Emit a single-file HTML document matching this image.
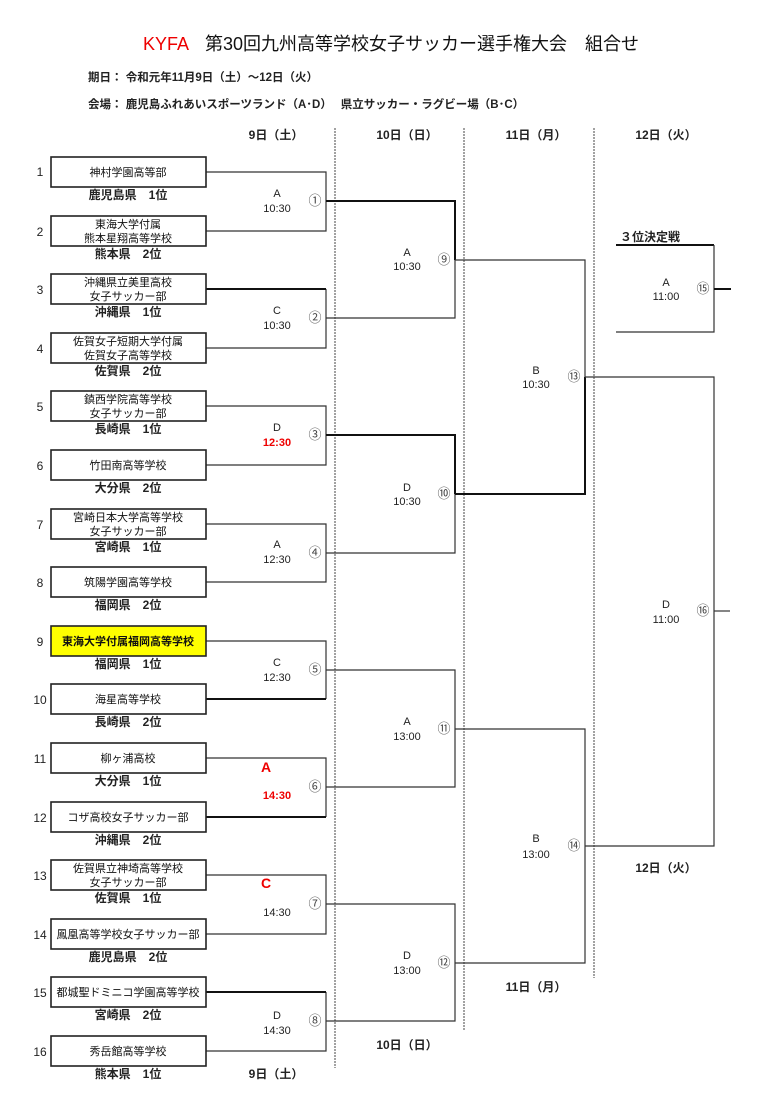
<!DOCTYPE html>
<html><head><meta charset="utf-8"><style>
html,body{margin:0;padding:0;background:#fff;}
svg{display:block;font-family:"Liberation Sans","Noto Sans CJK JP",sans-serif;}
.b{fill:#fff;stroke:#222;stroke-width:1.6}
.t{font-size:11px;fill:#111;text-anchor:middle}
.p{font-size:12px;fill:#222;text-anchor:middle;font-weight:bold}
.n{font-size:12px;fill:#222;text-anchor:middle}
.m{font-size:11px;fill:#222;text-anchor:middle}
.c{font-size:13px;fill:#444;text-anchor:middle}
.l{stroke:#333;stroke-width:1.2;fill:none}
.k{stroke:#111;stroke-width:2;fill:none}
.d{stroke:#444;stroke-width:1;stroke-dasharray:2,1;fill:none}
.h{font-size:12px;fill:#222;text-anchor:middle;font-weight:bold}
</style></head><body>
<svg width="760" height="1100" viewBox="0 0 760 1100">
<text x="143" y="50" font-size="18" fill="#e00">KYFA</text>
<text x="205" y="50" font-size="18" fill="#111">第30回九州高等学校女子サッカー選手権大会　組合せ</text>
<text x="88" y="81" font-size="11.5" fill="#222" font-weight="bold">期日：  令和元年11月9日（土）～12日（火）</text>
<text x="88" y="108" font-size="11.5" fill="#222" font-weight="bold">会場：  鹿児島ふれあいスポーツランド（A･D）　 県立サッカー・ラグビー場（B･C）</text>
<text class="h" x="276" y="139">9日（土）</text>
<text class="h" x="407" y="139">10日（日）</text>
<text class="h" x="536" y="139">11日（月）</text>
<text class="h" x="666" y="139">12日（火）</text>
<line class="d" x1="335" y1="128" x2="335" y2="1068"/>
<line class="d" x1="464" y1="128" x2="464" y2="1030"/>
<line class="d" x1="594" y1="128" x2="594" y2="978"/>
<path class="l" d="M206 172H326V231H206"/>
<path class="l" d="M206 348H326V289"/><path class="k" d="M206 289H326"/>
<path class="l" d="M206 406H326V465H206"/>
<path class="l" d="M206 524H326V582H206"/>
<path class="l" d="M206 641H326V699"/><path class="k" d="M206 699H326"/>
<path class="l" d="M206 758H326V817"/><path class="k" d="M206 817H326"/>
<path class="l" d="M206 875H326V934H206"/>
<path class="l" d="M206 1051H326V992"/><path class="k" d="M206 992H326"/>
<path class="k" d="M326 201H455V260"/><path class="l" d="M455 260V318H326"/>
<path class="k" d="M326 435H455V494"/><path class="l" d="M455 494V553H326"/>
<path class="l" d="M326 670H455V787H326"/>
<path class="l" d="M326 904H455V1021H326"/>
<path class="l" d="M455 260H585V377"/><path class="k" d="M585 377V494H455"/>
<path class="l" d="M455 729H585V963H455"/>
<path class="l" d="M585 377H714V846H585"/>
<line class="l" x1="714" y1="611" x2="730" y2="611"/>
<path class="k" d="M616 245H714"/><path class="l" d="M714 245V332H616"/>
<line class="k" x1="714" y1="289" x2="731" y2="289"/>
<text x="620" y="241" font-size="12" fill="#222" font-weight="bold">３位決定戦</text>
<text class="m" x="666" y="286">A</text><text class="m" x="666" y="300">11:00</text>
<text class="c" x="703" y="293">⑮</text>
<g>
<rect class="b" x="51" y="157" width="155" height="30"/>
<rect class="b" x="51" y="216" width="155" height="30"/>
<rect class="b" x="51" y="274" width="155" height="30"/>
<rect class="b" x="51" y="333" width="155" height="30"/>
<rect class="b" x="51" y="391" width="155" height="30"/>
<rect class="b" x="51" y="450" width="155" height="30"/>
<rect class="b" x="51" y="509" width="155" height="30"/>
<rect class="b" x="51" y="567" width="155" height="30"/>
<rect class="b" x="51" y="626" width="155" height="30" style="fill:#ffff00"/>
<rect class="b" x="51" y="684" width="155" height="30"/>
<rect class="b" x="51" y="743" width="155" height="30"/>
<rect class="b" x="51" y="802" width="155" height="30"/>
<rect class="b" x="51" y="860" width="155" height="30"/>
<rect class="b" x="51" y="919" width="155" height="30"/>
<rect class="b" x="51" y="977" width="155" height="30"/>
<rect class="b" x="51" y="1036" width="155" height="30"/>
</g>
<text class="n" x="40" y="176">1</text>
<text class="n" x="40" y="236">2</text>
<text class="n" x="40" y="294">3</text>
<text class="n" x="40" y="353">4</text>
<text class="n" x="40" y="411">5</text>
<text class="n" x="40" y="470">6</text>
<text class="n" x="40" y="529">7</text>
<text class="n" x="40" y="587">8</text>
<text class="n" x="40" y="646">9</text>
<text class="n" x="40" y="704">10</text>
<text class="n" x="40" y="763">11</text>
<text class="n" x="40" y="822">12</text>
<text class="n" x="40" y="880">13</text>
<text class="n" x="40" y="939">14</text>
<text class="n" x="40" y="997">15</text>
<text class="n" x="40" y="1056">16</text>
<text class="t" x="128" y="176">神村学園高等部</text>
<text class="t" x="128" y="228">東海大学付属</text><text class="t" x="128" y="242">熊本星翔高等学校</text>
<text class="t" x="128" y="286">沖縄県立美里高校</text><text class="t" x="128" y="300">女子サッカー部</text>
<text class="t" x="128" y="345">佐賀女子短期大学付属</text><text class="t" x="128" y="359">佐賀女子高等学校</text>
<text class="t" x="128" y="403">鎮西学院高等学校</text><text class="t" x="128" y="417">女子サッカー部</text>
<text class="t" x="128" y="469">竹田南高等学校</text>
<text class="t" x="128" y="521">宮崎日本大学高等学校</text><text class="t" x="128" y="535">女子サッカー部</text>
<text class="t" x="128" y="586">筑陽学園高等学校</text>
<text class="t" x="128" y="645" font-weight="bold" font-size="10.5">東海大学付属福岡高等学校</text>
<text class="t" x="128" y="703">海星高等学校</text>
<text class="t" x="128" y="762">柳ヶ浦高校</text>
<text class="t" x="128" y="821">コザ高校女子サッカー部</text>
<text class="t" x="128" y="872">佐賀県立神埼高等学校</text><text class="t" x="128" y="886">女子サッカー部</text>
<text class="t" x="128" y="938" font-size="10.5">鳳凰高等学校女子サッカー部</text>
<text class="t" x="128" y="996" font-size="10.5">都城聖ドミニコ学園高等学校</text>
<text class="t" x="128" y="1055">秀岳館高等学校</text>
<text class="p" x="128" y="199">鹿児島県　1位</text>
<text class="p" x="128" y="258">熊本県　2位</text>
<text class="p" x="128" y="316">沖縄県　1位</text>
<text class="p" x="128" y="375">佐賀県　2位</text>
<text class="p" x="128" y="433">長崎県　1位</text>
<text class="p" x="128" y="492">大分県　2位</text>
<text class="p" x="128" y="551">宮崎県　1位</text>
<text class="p" x="128" y="609">福岡県　2位</text>
<text class="p" x="128" y="668">福岡県　1位</text>
<text class="p" x="128" y="726">長崎県　2位</text>
<text class="p" x="128" y="785">大分県　1位</text>
<text class="p" x="128" y="844">沖縄県　2位</text>
<text class="p" x="128" y="902">佐賀県　1位</text>
<text class="p" x="128" y="961">鹿児島県　2位</text>
<text class="p" x="128" y="1019">宮崎県　2位</text>
<text class="p" x="128" y="1078">熊本県　1位</text>
<text class="m" x="277" y="197">A</text><text class="m" x="277" y="212">10:30</text><text class="c" x="315" y="205">①</text>
<text class="m" x="277" y="314">C</text><text class="m" x="277" y="329">10:30</text><text class="c" x="315" y="322">②</text>
<text class="m" x="277" y="431">D</text><text class="m" x="277" y="446" style="fill:#e00;font-weight:bold">12:30</text><text class="c" x="315" y="439">③</text>
<text class="m" x="277" y="548">A</text><text class="m" x="277" y="563">12:30</text><text class="c" x="315" y="557">④</text>
<text class="m" x="277" y="666">C</text><text class="m" x="277" y="681">12:30</text><text class="c" x="315" y="674">⑤</text>
<text class="m" x="266" y="772" style="fill:#e00;font-weight:bold;font-size:14px">A</text><text class="m" x="277" y="799" style="fill:#e00;font-weight:bold">14:30</text><text class="c" x="315" y="791">⑥</text>
<text class="m" x="266" y="888" style="fill:#e00;font-weight:bold;font-size:14px">C</text><text class="m" x="277" y="916">14:30</text><text class="c" x="315" y="908">⑦</text>
<text class="m" x="277" y="1019">D</text><text class="m" x="277" y="1034">14:30</text><text class="c" x="315" y="1025">⑧</text>
<text class="m" x="407" y="256">A</text><text class="m" x="407" y="270">10:30</text><text class="c" x="444" y="264">⑨</text>
<text class="m" x="407" y="491">D</text><text class="m" x="407" y="505">10:30</text><text class="c" x="444" y="498">⑩</text>
<text class="m" x="407" y="725">A</text><text class="m" x="407" y="740">13:00</text><text class="c" x="444" y="733">⑪</text>
<text class="m" x="407" y="959">D</text><text class="m" x="407" y="974">13:00</text><text class="c" x="444" y="967">⑫</text>
<text class="m" x="536" y="374">B</text><text class="m" x="536" y="388">10:30</text><text class="c" x="574" y="381">⑬</text>
<text class="m" x="536" y="842">B</text><text class="m" x="536" y="858">13:00</text><text class="c" x="574" y="850">⑭</text>
<text class="m" x="666" y="608">D</text><text class="m" x="666" y="623">11:00</text><text class="c" x="703" y="615">⑯</text>
<text class="h" x="666" y="872">12日（火）</text>
<text class="h" x="536" y="991">11日（月）</text>
<text class="h" x="407" y="1049">10日（日）</text>
<text class="h" x="276" y="1078">9日（土）</text>
</svg>
</body></html>
